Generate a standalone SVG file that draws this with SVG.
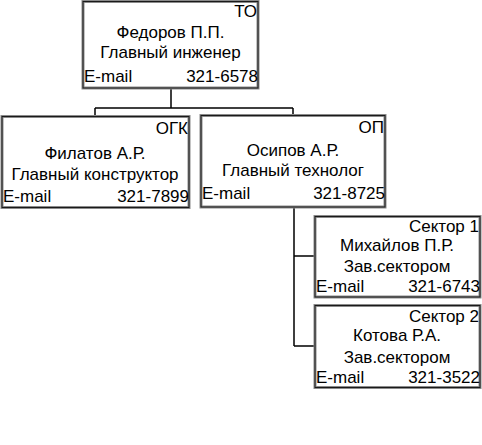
<svg xmlns="http://www.w3.org/2000/svg" width="482" height="445" viewBox="0 0 482 445">
<style>
.frame{fill:#fff;stroke:#8a8a8a;stroke-width:3}
.edge{fill:none;stroke:#1a1a1a;stroke-width:1}
.t{font-family:"Liberation Sans",Arial,sans-serif;font-size:17px;fill:#000}
.r{text-anchor:end}
.m{text-anchor:middle}
.conn{fill:none;stroke:#000;stroke-width:1.5}
</style>
<rect width="482" height="445" fill="#fff"/>
<g id="connectors">
<path class="conn" d="M171,88 V108 M95,108 H293 M95,108 V116 M293,108 V115 M294,207 V346 M294,256 H315 M294,346 H315"/>
</g>
<g id="node-to">
<rect class="frame" x="83" y="1.5" width="175" height="86.5"/>
<rect class="edge" x="83" y="1.5" width="175" height="86.5"/>
<text class="t r" x="257" y="17">ТО</text>
<text class="t m" x="170.5" y="38">Федоров П.П.</text>
<text class="t m" x="170.5" y="58">Главный инженер</text>
<text class="t" x="84" y="82">E-mail</text>
<text class="t r" x="258" y="82">321-6578</text>
</g>
<g id="node-ogk">
<rect class="frame" x="2" y="116.5" width="187" height="91"/>
<rect class="edge" x="2" y="116.5" width="187" height="91"/>
<text class="t r" x="188" y="134">ОГК</text>
<text class="t m" x="95" y="159">Филатов А.Р.</text>
<text class="t m" x="95" y="180">Главный конструктор</text>
<text class="t" x="3" y="202">E-mail</text>
<text class="t r" x="189" y="202">321-7899</text>
</g>
<g id="node-op">
<rect class="frame" x="201" y="115.5" width="184" height="91.5"/>
<rect class="edge" x="201" y="115.5" width="184" height="91.5"/>
<text class="t r" x="384" y="133">ОП</text>
<text class="t m" x="293" y="156">Осипов А.Р.</text>
<text class="t m" x="293" y="176">Главный технолог</text>
<text class="t" x="202" y="199">E-mail</text>
<text class="t r" x="385" y="199">321-8725</text>
</g>
<g id="node-sector1">
<rect class="frame" x="315" y="216.5" width="165" height="80.5"/>
<rect class="edge" x="315" y="216.5" width="165" height="80.5"/>
<text class="t r" x="479" y="232">Сектор 1</text>
<text class="t m" x="397" y="251">Михайлов П.Р.</text>
<text class="t m" x="397" y="272">Зав.сектором</text>
<text class="t" x="316" y="292">E-mail</text>
<text class="t r" x="480" y="292">321-6743</text>
</g>
<g id="node-sector2">
<rect class="frame" x="315" y="305.5" width="165" height="82"/>
<rect class="edge" x="315" y="305.5" width="165" height="82"/>
<text class="t r" x="479" y="322">Сектор 2</text>
<text class="t m" x="397" y="341">Котова Р.А.</text>
<text class="t m" x="397" y="363">Зав.сектором</text>
<text class="t" x="316" y="383">E-mail</text>
<text class="t r" x="480" y="383">321-3522</text>
</g>
</svg>
